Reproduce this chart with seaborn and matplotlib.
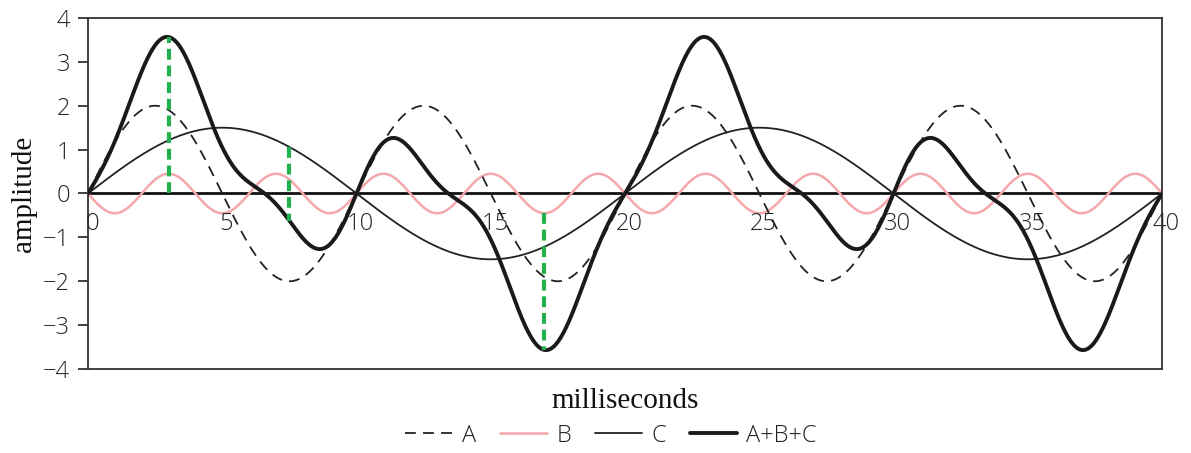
import numpy as np
import pandas as pd
import matplotlib
matplotlib.use("Agg")
import matplotlib.pyplot as plt
import seaborn as sns

# Component waves: amplitude (sign gives initial direction) and period in ms
wave_names = ["A", "B", "C"]
wave_amplitudes = [2.0, -0.45, 1.5]
wave_periods_ms = [10.0, 4.0, 20.0]
sum_name = "A+B+C"

x_ticks = [0, 5, 10, 15, 20, 25, 30, 35, 40]
y_ticks = [-4, -3, -2, -1, 0, 1, 2, 3, 4]

# Vertical guide markers: (time, start on which curve)
guide_times = [3.0, 7.5, 17.0]
guide_from = ["zero", "C", "B"]

t = np.linspace(0, 40, 2001)
curves = {}
for name, amp, per in zip(wave_names, wave_amplitudes, wave_periods_ms):
    curves[name] = amp * np.sin(2 * np.pi * t / per)
curves[sum_name] = curves["A"] + curves["B"] + curves["C"]

df = pd.DataFrame({"ms": t, **curves})

def value_at(name, x):
    if name == "zero":
        return 0.0
    if name == sum_name:
        return sum(value_at(n, x) for n in wave_names)
    i = wave_names.index(name)
    return wave_amplitudes[i] * np.sin(2 * np.pi * x / wave_periods_ms[i])

sns.set_theme(style="white")
plt.rcParams["font.family"] = ["Open Sans", "DejaVu Sans"]

fig = plt.figure(figsize=(11.91, 4.53), dpi=100)
ax = fig.add_axes([0.0739, 0.1854, 0.9018, 0.7749])

styles = {
    "A": dict(color="#222222", lw=1.3, ls=(0, (6, 4))),
    "B": dict(color="#f5a8ac", lw=1.8, ls="-"),
    "C": dict(color="#222222", lw=1.3, ls="-"),
    sum_name: dict(color="#1a1a1a", lw=2.8, ls="-"),
}

ax.axhline(0, color="#111111", lw=2.0, zorder=1)

for name in ["B", "C", "A", sum_name]:
    st = styles[name]
    sns.lineplot(data=df, x="ms", y=name, ax=ax, color=st["color"],
                 linewidth=st["lw"], linestyle=st["ls"], label=name,
                 zorder=3 if name == sum_name else 2)

for gx, src in zip(guide_times, guide_from):
    y0 = value_at(src, gx)
    y1 = value_at(sum_name, gx)
    ax.plot([gx, gx], [y0, y1], color="#22b14c", lw=3.0,
            ls=(0, (2.6, 1.4)), zorder=4)

tick_font = dict(family=["Open Sans", "DejaVu Sans"], size=17,
                 weight="light", color="#23262e")

ax.set_xlim(0, 40)
ax.set_ylim(-4, 4)
ax.set_yticks(y_ticks)
ax.set_yticklabels([f"{v}".replace("-", "\u2212") for v in y_ticks], **tick_font)
ax.set_xticks(x_ticks)
ax.set_xticklabels([])
ax.tick_params(axis="x", length=0)
ax.tick_params(axis="y", direction="out", length=7, width=1.3,
               color="#333333", pad=6, left=True)

for xt in x_ticks:
    ax.annotate(str(xt), xy=(xt, 0), xytext=(3, -13), textcoords="offset points",
                ha="center", va="top", **tick_font)

for sp in ax.spines.values():
    sp.set_color("#333333")
    sp.set_linewidth(1.3)
    sp.set_visible(True)

ax.set_xlabel("milliseconds", family="Liberation Serif", fontsize=21,
              color="#111111", labelpad=10)
ax.set_ylabel("amplitude", family="Liberation Serif", fontsize=21,
              color="#111111", labelpad=4)

leg_h, leg_l = ax.get_legend_handles_labels()
order = ["A", "B", "C", sum_name]
hmap = dict(zip(leg_l, leg_h))
ax.legend([hmap[n] for n in order], order, loc="lower center",
          bbox_to_anchor=(0.513, -0.035), bbox_transform=fig.transFigure,
          ncol=4, frameon=False, handlelength=2.0,
          columnspacing=1.0, handletextpad=0.4, labelcolor="#222222",
          prop=dict(family=["Open Sans", "DejaVu Sans"], size=17, weight="light"))

fig.savefig("out.png", dpi=100, facecolor="white")
